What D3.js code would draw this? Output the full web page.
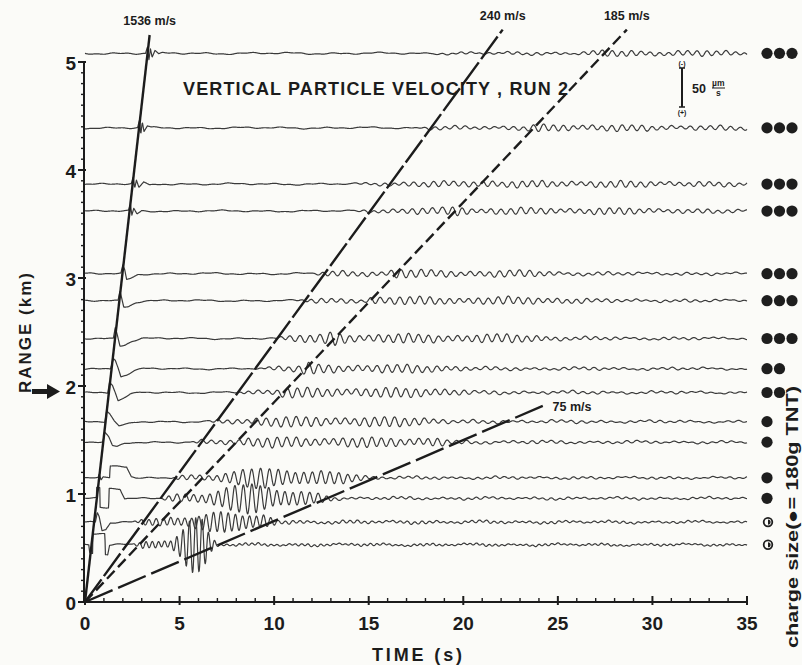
<!DOCTYPE html>
<html>
<head>
<meta charset="utf-8">
<script src="https://cdn.jsdelivr.net/npm/d3@7"></script>
<style>
  html, body { margin: 0; padding: 0; background: #fbfbf8; }
  svg { display: block; }
  text { font-family: "Liberation Sans", Arial, Helvetica, sans-serif; font-weight: bold; fill: #1c1c1c; }
</style>
</head>
<body>
<svg id="chart" width="802" height="665"></svg>
<script>
// Station ranges (km), farthest first
const stationRange = [5.08, 4.39, 3.87, 3.62, 3.04, 2.79, 2.44, 2.16, 1.94, 1.67, 1.48, 1.15, 0.96, 0.74, 0.53];
// Charge size per shot, in units of 180 g TNT
const chargeUnits = [3, 3, 3, 3, 3, 3, 3, 2, 2, 1, 1, 1, 1, 0.5, 0.5];
// Dominant period of the interface-wave train (s)
const carrierPeriod = [0.5, 0.52, 0.52, 0.52, 0.52, 0.52, 0.52, 0.52, 0.52, 0.52, 0.5, 0.46, 0.44, 0.38, 0.33];
// Ambient noise level on each record (µm/s)
const backgroundLevel = [1.5, 1.4, 1.4, 1.3, 1.4, 1.3, 1.3, 1.3, 1.4, 1.4, 1.4, 1.3, 1.4, 1.5, 1.5];

// First-arrival (water wave) shape: [time s, velocity µm/s], + is downward
const firstArrival = [
  [[3.2, 0], [3.3, -8], [3.38, 8], [3.46, -6], [3.55, 5], [3.7, -3], [3.9, 2], [4.1, 0]],
  [[2.78, 0], [2.88, -9], [2.95, 9], [3.03, -7], [3.12, 5], [3.3, -2], [3.5, 0]],
  [[2.45, 0], [2.55, -8], [2.63, 6], [2.72, -4], [2.85, 5], [3.1, -2], [3.4, 2], [3.7, 0]],
  [[2.3, 0], [2.4, -7], [2.48, 6], [2.58, -3], [2.75, 4], [3.0, 0]],
  [[1.9, 0], [2.0, -10], [2.1, -4], [2.2, 8], [2.4, 6], [2.8, 1], [3.2, 0]],
  [[1.75, 0], [1.85, -12], [1.95, -2], [2.05, 8], [2.3, 7], [2.7, 2], [3.1, 0]],
  [[1.5, 0], [1.6, -14], [1.72, -4], [1.85, 9], [2.1, 8], [2.5, 3], [3.0, 0]],
  [[1.35, 0], [1.5, -14], [1.6, -12], [1.75, -2], [1.9, 10], [2.2, 8], [2.6, 3], [3.1, 0]],
  [[1.2, 0], [1.3, -14], [1.45, -10], [1.6, 0], [1.75, 11], [2.0, 8], [2.4, 3], [2.9, 0]],
  [[1.05, 0], [1.15, -14], [1.3, -10], [1.55, 0], [1.8, 6], [2.2, 4], [2.6, 1], [3.0, 0]],
  [[0.95, 0], [1.05, -12], [1.25, -6], [1.45, 5], [1.7, 6], [2.1, 2], [2.5, 0]],
  [[0.7, 0], [0.75, -4], [0.85, 4], [0.95, 0], [1.3, 0], [1.33, -15], [2.2, -15], [2.45, -2], [2.7, 0]],
  [[0.6, 0], [0.62, -13], [0.78, -13], [0.8, 12], [1.25, 12], [1.28, -13], [1.85, -13], [2.1, 0]],
  [[0.55, 0], [0.65, -13], [0.75, -8], [0.9, 10], [1.1, 9], [1.35, 0]],
  [[0.2, 0], [0.25, 10], [0.4, 10], [0.42, -15], [1.05, -15], [1.08, 12], [1.2, 12], [1.3, 0]]
];

// Envelope of the slow interface-wave train: [time s, amplitude µm/s]
const waveEnvelope = [
  [[0, 0], [18, 0], [20, 1.5], [26, 1.5], [27, 3.5], [30, 3.5], [35, 3]],
  [[0, 0], [17, 0], [18.5, 2], [23, 2.5], [24, 4.5], [28, 4], [32, 3], [35, 2.5]],
  [[0, 0], [14, 0], [16, 3], [20, 3.5], [21, 6], [22, 4], [29, 4], [32, 3], [35, 2.5]],
  [[0, 0], [14, 0], [15.5, 3], [19, 4], [19.7, 8], [20.5, 4], [29, 4], [32, 2.5], [35, 2]],
  [[0, 0], [12, 0], [12.8, 3], [16, 4], [16.5, 7], [17.5, 4.5], [24, 4], [26, 2], [35, 1]],
  [[0, 0], [11, 0], [12, 2.5], [14.8, 3], [15.2, 7], [16, 5], [25, 4.5], [27, 2], [35, 1]],
  [[0, 0], [10, 0], [10.6, 4], [12.5, 5], [13.2, 10], [14, 6], [24, 5], [25.5, 2], [35, 1]],
  [[0, 0], [9, 0], [9.8, 3], [11.3, 4], [11.8, 8], [12.5, 5.5], [19, 5], [20.5, 2], [35, 1]],
  [[0, 0], [8, 0], [8.5, 3], [10.2, 4], [10.7, 7], [11.5, 6], [19, 6], [20.5, 2], [35, 1]],
  [[0, 0], [6.5, 0], [7, 2.5], [8.5, 4], [9.2, 6.5], [18, 6], [19.5, 2], [35, 1]],
  [[0, 0], [5.5, 0], [6, 2], [7.8, 4], [8.5, 6.5], [18.5, 6], [19.5, 2], [35, 1]],
  [[0, 0], [4.5, 0], [5, 2.5], [6.5, 4], [7.7, 10], [9, 13], [11.5, 12], [13, 8], [15, 3], [16, 1.5], [35, 1]],
  [[0, 0], [4, 0], [4.5, 4], [6, 7], [7.5, 16], [9, 20], [10.5, 15], [12.5, 5], [13.3, 1.5], [35, 1]],
  [[0, 0], [2.5, 0], [3, 3], [4, 5], [5.5, 9], [7, 13], [8.5, 14], [9.5, 10], [10.2, 2], [35, 1]],
  [[0, 0], [2.5, 0], [3, 4], [4.5, 7], [5, 18], [5.6, 35], [6.2, 35], [6.6, 15], [7.0, 3], [7.3, 1.5], [35, 1]]
];

// Phase-velocity reference lines
const velocityNames = ["1536 m/s", "240 m/s", "185 m/s", "75 m/s"];
const velocityMs = [1536, 240, 185, 75];
const velocityTopKm = [5.25, 5.3, 5.3, 1.83];

const timeTicks = [0, 5, 10, 15, 20, 25, 30, 35];
const rangeTicks = [0, 1, 2, 3, 4, 5];

const svg = d3.select("#chart");
const ink = "#1c1c1c";

const x = d3.scaleLinear().domain([0, 35]).range([85, 747]);
const y = d3.scaleLinear().domain([0, 5]).range([602, 62]);
const amp = d3.scaleLinear().domain([0, 50]).range([0, 39]);
const knotScale = k => d3.scaleLinear().domain(k.map(d => d[0])).range(k.map(d => d[1])).clamp(true);

// ---- seismogram traces ----
const tSamples = d3.range(0, 35.0001, 0.02);
const traceLine = d3.line().x(d => x(d[0])).y(d => d[1]);
const traces = svg.append("g").attr("fill", "none").attr("stroke", "#3a3a3a")
  .attr("stroke-width", 1.2).attr("stroke-linejoin", "round");

stationRange.forEach((r, i) => {
  const pulse = knotScale(firstArrival[i]);
  const env = knotScale(waveEnvelope[i]);
  const P = carrierPeriod[i];
  const bg = backgroundLevel[i];
  const w = 2 * Math.PI;
  const pts = tSamples.map(t => {
    const v = pulse(t)
      + env(t) * (0.78 * Math.sin(w * t / P + i * 0.9) + 0.22 * Math.sin(w * t / (P * 1.12) + i * 0.4))
      + bg * (0.5 * Math.sin(w * t / 2.3 + i * 1.3)
            + 0.3 * Math.sin(w * t / 0.83 + i * 2.1)
            + 0.3 * Math.sin(w * t / 5.7 + i));
    return [t, y(r) + amp(v)];
  });
  traces.append("path").attr("d", traceLine(pts));
});

// ---- velocity lines ----
const dashes = [null, "28,4", "11,5", "30,6"];
const vg = svg.append("g");
velocityMs.forEach((v, i) => {
  const top = velocityTopKm[i];
  const tTop = top * 1000 / v;
  vg.append("line")
    .attr("x1", x(0)).attr("y1", y(0))
    .attr("x2", x(tTop)).attr("y2", y(top))
    .attr("stroke", ink).attr("stroke-width", 2.4)
    .attr("stroke-dasharray", dashes[i]);
  const lbl = vg.append("text").text(velocityNames[i]).attr("font-size", 12.5);
  if (i < 3) {
    lbl.attr("x", x(tTop)).attr("y", y(top) - 10).attr("text-anchor", "middle");
  } else {
    lbl.attr("x", x(tTop) + 6).attr("y", y(top) + 7).attr("text-anchor", "start");
  }
});

// ---- axes ----
const ax = svg.append("g").attr("stroke", ink);
ax.append("line").attr("x1", x(0) - 1).attr("x2", x(35)).attr("y1", y(0)).attr("y2", y(0)).attr("stroke-width", 2);
ax.append("line").attr("x1", x(0) - 1).attr("x2", x(0) - 1).attr("y1", y(0)).attr("y2", y(5)).attr("stroke-width", 2);

d3.range(0, 35.001, 1).forEach(t => {
  const major = timeTicks.includes(t);
  ax.append("line").attr("x1", x(t)).attr("x2", x(t))
    .attr("y1", y(0) - (major ? 6 : 4)).attr("y2", y(0) + (major ? 3 : 0))
    .attr("stroke-width", major ? 2 : 1.4);
});
d3.range(0, 5.001, 0.1).forEach(k => {
  const major = rangeTicks.some(v => Math.abs(v - k) < 1e-6);
  ax.append("line").attr("x1", x(0) - (major ? 7 : 4)).attr("x2", x(0) + (major ? 1 : 0))
    .attr("y1", y(k)).attr("y2", y(k)).attr("stroke-width", major ? 2 : 1.4);
});

svg.append("g").selectAll("text").data(timeTicks).join("text")
  .attr("x", d => x(d)).attr("y", 630).attr("text-anchor", "middle")
  .attr("font-size", 19).text(d => d);
svg.append("g").selectAll("text").data(rangeTicks).join("text")
  .attr("x", 76).attr("y", d => y(d) + 8).attr("text-anchor", "end")
  .attr("font-size", 19).text(d => d);

svg.append("text").attr("x", 417).attr("y", 661).attr("text-anchor", "middle")
  .attr("font-size", 18).attr("textLength", 90).attr("lengthAdjust", "spacing").text("TIME  (s)");
svg.append("text").attr("transform", "translate(31,333) rotate(-90)").attr("text-anchor", "middle")
  .attr("font-size", 17).attr("textLength", 120).attr("lengthAdjust", "spacing").text("RANGE (km)");

// arrow pointing at the 2 km tick
svg.append("path")
  .attr("d", "M32,389 L47,389 L47,384 L60,391.5 L47,399 L47,394 L32,394 Z")
  .attr("fill", ink);

// ---- title ----
svg.append("text").attr("x", 183).attr("y", 95).attr("font-size", 18)
  .attr("textLength", 385).attr("lengthAdjust", "spacing")
  .text("VERTICAL PARTICLE VELOCITY , RUN 2");

// ---- amplitude scale bar (50 µm/s) ----
const sb = svg.append("g");
const sbX = 682, sbTop = 68;
sb.append("line").attr("x1", sbX).attr("x2", sbX).attr("y1", sbTop).attr("y2", sbTop + amp(50))
  .attr("stroke", ink).attr("stroke-width", 2);
[sbTop, sbTop + amp(50)].forEach(yy => sb.append("line").attr("x1", sbX - 3).attr("x2", sbX + 3)
  .attr("y1", yy).attr("y2", yy).attr("stroke", ink).attr("stroke-width", 1.5));
sb.append("text").attr("x", sbX).attr("y", sbTop - 2).attr("font-size", 7).attr("text-anchor", "middle").text("(-)");
sb.append("text").attr("x", sbX).attr("y", sbTop + amp(50) + 8).attr("font-size", 7).attr("text-anchor", "middle").text("(+)");
sb.append("text").attr("x", 692).attr("y", 93).attr("font-size", 12.5).text("50");
sb.append("text").attr("x", 712).attr("y", 86).attr("font-size", 8.5).text("µm");
sb.append("line").attr("x1", 712).attr("x2", 725).attr("y1", 88).attr("y2", 88).attr("stroke", ink).attr("stroke-width", 1);
sb.append("text").attr("x", 716).attr("y", 96).attr("font-size", 8.5).text("s");

// ---- charge-size markers ----
const cg = svg.append("g");
stationRange.forEach((r, i) => {
  const n = chargeUnits[i];
  const cy = y(r);
  if (n >= 1) {
    d3.range(n).forEach(k => cg.append("circle").attr("cx", 767 + k * 12.5).attr("cy", cy).attr("r", 5.6).attr("fill", "#1e1e1e"));
  } else {
    cg.append("circle").attr("cx", 768).attr("cy", cy).attr("r", 4.3).attr("fill", "#fbfbf8").attr("stroke", "#1e1e1e").attr("stroke-width", 1.8);
    cg.append("path").attr("transform", `translate(768,${cy})`)
      .attr("d", d3.arc()({ innerRadius: 0, outerRadius: 2.6, startAngle: 0, endAngle: Math.PI * 2 * n }))
      .attr("fill", "#1e1e1e");
  }
});

svg.append("text").attr("transform", "translate(798,648) rotate(-90)").attr("font-size", 16.5)
  .attr("textLength", 262).attr("lengthAdjust", "spacingAndGlyphs")
  .text("charge size(●= 180g TNT)");
</script>
</body>
</html>
